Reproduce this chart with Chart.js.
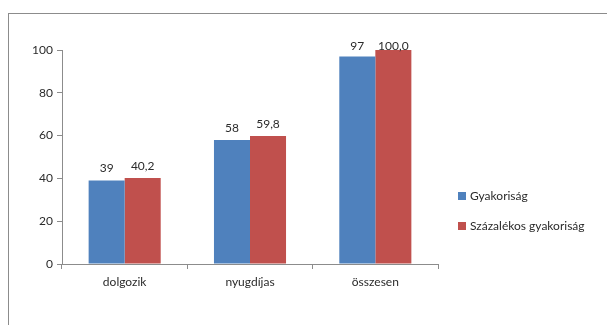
<!DOCTYPE html>
<html>
<head>
<meta charset="utf-8">
<script src="https://cdn.jsdelivr.net/npm/chart.js@4/dist/chart.umd.min.js"></script>
<style>
  html, body { margin: 0; padding: 0; background: #fff; overflow: hidden; }
  #wrap { position: relative; width: 607px; height: 325px; }
  #frame { position: absolute; left: 8px; top: 13px; width: 640px; height: 360px; border: 1px solid #8c8c8c; box-sizing: border-box; }
  #chart { position: absolute; left: 0; top: 0; }
</style>
</head>
<body>
<div id="wrap">
  <div id="frame"></div>
  <canvas id="chart" width="607" height="325"></canvas>
</div>
<script>
// Categories and series
const categories = ['dolgozik', 'nyugdíjas', 'összesen'];
const frequency = [39, 58, 97];
const percentFrequency = [40.2, 59.8, 100.0];
const seriesNames = ['Gyakoriság', 'Százalékos gyakoriság'];
const yTicks = [0, 20, 40, 60, 80, 100];

const FONT = 'Lato, "Open Sans", sans-serif';
const TEXT = '#2b2b2b';
const AXIS = '#8c8c8c';

// Decimal comma formatting for the value labels
const fmt = (v, digits) => v.toFixed(digits).replace('.', ',');

// Value labels above each bar, kept inside the plot area at the top
const valueLabels = {
  id: 'valueLabels',
  afterDatasetsDraw(chart) {
    const ctx = chart.ctx;
    const top = chart.chartArea.top;
    ctx.save();
    ctx.font = '12px ' + FONT;
    ctx.fillStyle = TEXT;
    ctx.textAlign = 'center';
    ctx.textBaseline = 'bottom';
    chart.data.datasets.forEach((ds, di) => {
      const meta = chart.getDatasetMeta(di);
      meta.data.forEach((bar, i) => {
        const y = Math.max(bar.y - 6, top + 2);
        ctx.fillText(fmt(ds.data[i], ds.digits), bar.x, y);
      });
    });
    ctx.restore();
  }
};

const sideLegend = {
  id: 'sideLegend',
  afterDraw(chart) {
    const ctx = chart.ctx;
    ctx.save();
    ctx.font = '12px ' + FONT;
    ctx.textBaseline = 'middle';
    ctx.textAlign = 'left';
    chart.data.datasets.forEach((ds, i) => {
      const y = 196 + i * 30;
      ctx.fillStyle = ds.backgroundColor;
      ctx.fillRect(458, y - 4, 8, 8);
      ctx.fillStyle = TEXT;
      ctx.fillText(ds.label, 470, y);
    });
    ctx.restore();
  }
};

new Chart(document.getElementById('chart'), {
  type: 'bar',
  data: {
    labels: categories,
    datasets: [
      { label: seriesNames[0], data: frequency, digits: 0, backgroundColor: '#4f81bd' },
      { label: seriesNames[1], data: percentFrequency, digits: 1, backgroundColor: '#c0504d' }
    ]
  },
  options: {
    responsive: false,
    animation: false,
    devicePixelRatio: 1,
    layout: { padding: { left: 0, top: 50, right: 169, bottom: 0 } },
    plugins: { legend: { display: false }, tooltip: { enabled: false } },
    datasets: { bar: { categoryPercentage: 0.575, barPercentage: 1 } },
    scales: {
      x: {
        afterFit(scale) { scale.height = 61; },
        grid: { offset: true, drawOnChartArea: false, drawTicks: true, tickLength: 5, color: AXIS },
        border: { color: AXIS },
        ticks: { font: { family: FONT, size: 12 }, color: TEXT, padding: 6 }
      },
      y: {
        min: 0, max: 100,
        afterFit(scale) { scale.width = 62; },
        afterBuildTicks(scale) { scale.ticks = yTicks.map(v => ({ value: v })); },
        grid: { drawOnChartArea: false, drawTicks: true, tickLength: 5, color: AXIS },
        border: { color: AXIS },
        ticks: { font: { family: FONT, size: 12 }, color: TEXT, padding: 4 }
      }
    }
  },
  plugins: [valueLabels, sideLegend]
});
</script>
</body>
</html>
